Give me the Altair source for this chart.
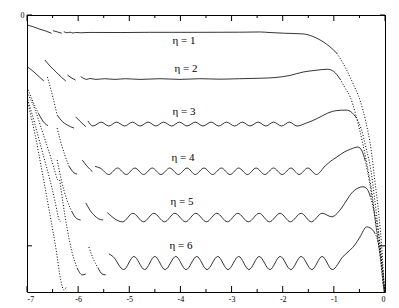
import altair as alt
import pandas as pd

# ---------------- data (plot units) ----------------
# eta = 1
E1_A_X = [-7.00, -6.88, -6.77, -6.65, -6.52]
E1_A_Y = [-0.43, -0.51, -0.60, -0.68, -0.79]
E1_B_X = [-6.49, -6.41, -6.32]
E1_B_Y = [-0.68, -0.73, -0.79]
E1_BODY_X = [-6.28, -6.22, -6.16, -6.10, -6.04, -5.96, -5.77, -5.18, -4.60, -3.62, -2.84, -2.44, -2.25, -1.96, -1.60, -1.41, -1.21, -1.08, -0.94]
E1_BODY_Y = [-0.72, -0.77, -0.745, -0.78, -0.755, -0.77, -0.755, -0.76, -0.75, -0.75, -0.745, -0.735, -0.76, -0.79, -0.82, -0.93, -1.16, -1.37, -1.66]
E1_TAIL_X = [-0.94, -0.75, -0.63, -0.49, -0.37, -0.27, -0.20, -0.12, -0.06, -0.01]
E1_TAIL_Y = [-1.66, -2.38, -2.95, -3.68, -4.68, -5.85, -7.15, -8.66, -10.18, -12.0]

# eta = 2
E2_A_X = [-7.00, -6.90, -6.79, -6.67]
E2_A_Y = [-2.24, -2.40, -2.62, -2.86]
E2_B_X = [-6.65, -6.55, -6.43, -6.32, -6.24]
E2_B_Y = [-1.95, -2.21, -2.47, -2.71, -2.86]
E2_C_X = [-6.21, -6.14, -6.05]
E2_C_Y = [-2.60, -2.71, -2.82]
E2_BODY_X = [-5.95, -5.89, -5.83, -5.77, -5.65, -5.48, -5.28, -5.08, -4.79, -4.40, -4.01, -3.62, -3.23, -2.84, -2.44, -2.15, -1.86, -1.60, -1.37, -1.12, -1.00, -0.88]
E2_BODY_Y = [-2.67, -2.75, -2.79, -2.75, -2.79, -2.76, -2.79, -2.76, -2.79, -2.76, -2.79, -2.76, -2.78, -2.76, -2.74, -2.71, -2.62, -2.47, -2.40, -2.35, -2.45, -2.77]
E2_TAIL_X = [-0.88, -0.78, -0.68, -0.57, -0.45, -0.35, -0.25, -0.18, -0.10, -0.02]
E2_TAIL_Y = [-2.77, -3.16, -3.55, -4.33, -5.42, -6.50, -7.80, -9.10, -10.40, -12.0]

# eta = 3
E3_A1_X = [-7.00, -6.88, -6.77]
E3_A1_Y = [-3.12, -3.77, -4.29]
E3_A2_X = [-6.77, -6.65, -6.59]
E3_A2_Y = [-4.29, -4.70, -4.79]
E3_B1_X = [-6.60, -6.51, -6.41]
E3_B1_Y = [-2.69, -3.42, -4.33]
E3_B2_X = [-6.41, -6.32, -6.21, -6.08]
E3_B2_Y = [-4.33, -4.59, -4.77, -4.90]
E3_C_X = [-6.05, -5.96, -5.85]
E3_C_Y = [-4.41, -4.61, -4.84]
E3_BODY_X = [-5.81, -5.71, -5.55, -5.40, -5.25, -5.09, -4.94, -4.79, -4.63, -4.48, -4.33, -4.17, -4.02,
             -3.87, -3.71, -3.56, -3.40, -3.25, -3.10, -2.94, -2.79, -2.64, -2.48, -2.33, -2.18, -2.02,
             -1.87, -1.72, -1.56, -1.43, -1.27, -1.12, -0.94, -0.76, -0.65, -0.57]
E3_BODY_Y = [-4.59, -4.81, -4.64, -4.81, -4.64, -4.81, -4.64, -4.81, -4.64, -4.81, -4.64, -4.81, -4.64,
             -4.81, -4.64, -4.81, -4.64, -4.81, -4.64, -4.81, -4.64, -4.81, -4.64, -4.81, -4.64, -4.81,
             -4.64, -4.81, -4.70, -4.59, -4.42, -4.25, -4.14, -4.12, -4.22, -4.42]
E3_TAIL_X = [-0.57, -0.47, -0.37, -0.27, -0.20, -0.12, -0.06, -0.01]
E3_TAIL_Y = [-4.42, -4.90, -5.76, -6.80, -8.01, -9.53, -10.83, -12.0]

# eta = 4
E4_A_X = [-7.00, -6.84, -6.71, -6.55, -6.45, -6.41, -6.37]
E4_A_Y = [-3.34, -4.12, -4.98, -6.07, -6.80, -7.10, -7.19]
E4_B1_X = [-6.41, -6.34, -6.26, -6.18]
E4_B1_Y = [-4.90, -5.50, -6.07, -6.54]
E4_B2_X = [-6.18, -6.08, -6.02]
E4_B2_Y = [-6.54, -6.84, -6.89]
E4_C_X = [-5.92, -5.83, -5.72]
E4_C_Y = [-6.28, -6.54, -6.79]
E4_BODY_X = [-5.67, -5.57, -5.40, -5.23, -5.06, -4.89, -4.72, -4.55, -4.38, -4.21, -4.04, -3.87, -3.71,
             -3.54, -3.37, -3.20, -3.03, -2.86, -2.69, -2.52, -2.35, -2.18, -2.01, -1.84, -1.68, -1.51,
             -1.34, -1.17, -1.06, -0.94, -0.80, -0.67, -0.53, -0.45, -0.39]
E4_BODY_Y = [-6.56, -6.63, -6.91, -6.63, -6.91, -6.63, -6.91, -6.63, -6.91, -6.63, -6.91, -6.63, -6.91,
             -6.63, -6.91, -6.63, -6.91, -6.63, -6.91, -6.63, -6.91, -6.63, -6.91, -6.63, -6.91, -6.63,
             -6.91, -6.54, -6.33, -6.15, -5.94, -5.81, -5.72, -5.89, -6.28]
E4_TAIL_X = [-0.39, -0.31, -0.235, -0.156, -0.078, -0.02, 0.0]
E4_TAIL_Y = [-6.28, -7.15, -8.23, -9.40, -10.70, -11.91, -12.04]

# eta = 5
E5_A_X = [-7.00, -6.84, -6.71, -6.55, -6.45, -6.37, -6.34]
E5_A_Y = [-3.55, -4.77, -5.85, -7.15, -8.10, -8.88, -8.97]
E5_B1_X = [-6.41, -6.32, -6.22, -6.12]
E5_B1_Y = [-6.28, -7.23, -8.01, -8.53]
E5_B2_X = [-6.12, -6.03, -5.95]
E5_B2_Y = [-8.53, -8.82, -8.88]
E5_C_X = [-5.85, -5.77, -5.67, -5.57, -5.51]
E5_C_Y = [-8.14, -8.45, -8.71, -8.86, -8.88]
E5_BODY_X = [-5.43, -5.13, -4.93, -4.72, -4.52, -4.31, -4.11, -3.90, -3.70, -3.49, -3.29, -3.08, -2.88,
             -2.67, -2.46, -2.26, -2.05, -1.85, -1.64, -1.44, -1.23, -1.04, -0.88, -0.76, -0.65, -0.53,
             -0.43, -0.35, -0.29]
E5_BODY_Y = [-8.56, -8.96, -8.59, -8.96, -8.59, -8.96, -8.59, -8.96, -8.59, -8.96, -8.59, -8.96, -8.59,
             -8.96, -8.59, -8.96, -8.59, -8.96, -8.59, -8.96, -8.59, -8.74, -8.45, -8.06, -7.71, -7.50,
             -7.44, -7.54, -7.84]
E5_TAIL_X = [-0.29, -0.215, -0.143, -0.078, -0.02, 0.0]
E5_TAIL_Y = [-7.84, -8.49, -9.23, -10.31, -11.61, -12.0]

# eta = 6
E6_A_X = [-7.00, -6.84, -6.71, -6.55, -6.43, -6.34, -6.28, -6.23]
E6_A_Y = [-3.68, -5.20, -6.72, -8.66, -10.18, -11.48, -11.91, -11.78]
E6_B1_X = [-6.36, -6.29, -6.21, -6.12, -6.02]
E6_B1_Y = [-7.15, -8.23, -9.31, -10.27, -10.96]
E6_B2_X = [-6.02, -5.92, -5.85]
E6_B2_Y = [-10.96, -11.26, -11.22]
E6_C1_X = [-5.79, -5.71, -5.61]
E6_C1_Y = [-10.05, -10.53, -10.96]
E6_C2_X = [-5.61, -5.53, -5.46]
E6_C2_Y = [-10.96, -11.22, -11.26]
E6_BODY_X = [-5.40, -5.32, -5.11, -4.91, -4.70, -4.50, -4.30, -4.09, -3.89, -3.68, -3.48, -3.27, -3.07,
             -2.86, -2.66, -2.46, -2.25, -2.05, -1.84, -1.64, -1.43, -1.23, -1.03, -0.82, -0.68, -0.59,
             -0.49, -0.36, -0.27, -0.20]
E6_BODY_Y = [-10.35, -10.46, -11.03, -10.46, -11.03, -10.46, -11.03, -10.46, -11.03, -10.46, -11.03,
             -10.46, -11.03, -10.46, -11.03, -10.46, -11.03, -10.46, -11.03, -10.46, -11.03, -10.46,
             -11.03, -10.46, -10.18, -9.96, -9.62, -9.18, -9.25, -9.44]
E6_TAIL_X = [-0.20, -0.137, -0.088, -0.039, 0.0]
E6_TAIL_Y = [-9.44, -9.83, -10.40, -11.18, -12.13]

LABELS = ["η = 1", "η = 2", "η = 3", "η = 4", "η = 5", "η = 6"]
LABEL_X = [-3.93, -3.89, -3.93, -3.95, -3.97, -3.99]
LABEL_Y = [-1.13, -2.34, -4.22, -6.20, -8.08, -10.01]

X_MAJOR = [-7, -6, -5, -4, -3, -2, -1, 0]
X_MINOR = [-6.5, -5.5, -4.5, -3.5, -2.5, -1.5, -0.5]
Y_MAJOR = [0, -10]

SOLID = [
    (E1_A_X, E1_A_Y), (E1_B_X, E1_B_Y), (E1_BODY_X, E1_BODY_Y),
    (E2_A_X, E2_A_Y), (E2_B_X, E2_B_Y), (E2_C_X, E2_C_Y), (E2_BODY_X, E2_BODY_Y),
    (E3_A2_X, E3_A2_Y), (E3_B2_X, E3_B2_Y), (E3_C_X, E3_C_Y), (E3_BODY_X, E3_BODY_Y),
    (E4_B2_X, E4_B2_Y), (E4_C_X, E4_C_Y), (E4_BODY_X, E4_BODY_Y),
    (E5_B2_X, E5_B2_Y), (E5_C_X, E5_C_Y), (E5_BODY_X, E5_BODY_Y),
    (E6_B2_X, E6_B2_Y), (E6_C2_X, E6_C2_Y), (E6_BODY_X, E6_BODY_Y),
]
DOTTED = [
    (E1_TAIL_X, E1_TAIL_Y), (E2_TAIL_X, E2_TAIL_Y),
    (E3_A1_X, E3_A1_Y), (E3_B1_X, E3_B1_Y), (E3_TAIL_X, E3_TAIL_Y),
    (E4_A_X, E4_A_Y), (E4_B1_X, E4_B1_Y), (E4_TAIL_X, E4_TAIL_Y),
    (E5_A_X, E5_A_Y), (E5_B1_X, E5_B1_Y), (E5_TAIL_X, E5_TAIL_Y),
    (E6_A_X, E6_A_Y), (E6_B1_X, E6_B1_Y), (E6_C1_X, E6_C1_Y), (E6_TAIL_X, E6_TAIL_Y),
]


def table(segs):
    rows = []
    for k, (xs, ys) in enumerate(segs):
        for i, (x, y) in enumerate(zip(xs, ys)):
            rows.append({"seg": k, "i": i, "x": x, "y": y})
    return pd.DataFrame(rows)


solid_df = table(SOLID)
dotted_df = table(DOTTED)
label_df = pd.DataFrame({"x": LABEL_X, "y": LABEL_Y, "t": LABELS})
xmaj_df = pd.DataFrame({"x": X_MAJOR})
xmin_df = pd.DataFrame({"x": X_MINOR})
ymaj_df = pd.DataFrame({"y": Y_MAJOR})

W, H = 358, 277
FONT = "Liberation Serif"

xs = alt.Scale(domain=[-7, 0], nice=False, zero=False)
ys = alt.Scale(domain=[-12, 0], nice=False, zero=False)
xaxis = alt.Axis(values=X_MAJOR, ticks=False, domain=False, grid=False, labelFont=FONT,
                 labelFontSize=8, labelPadding=3, labelExpr="'' + datum.value", title="",
                 labelColor="black")
yaxis = alt.Axis(values=Y_MAJOR, ticks=False, domain=False, grid=False, labelFont=FONT,
                 labelFontSize=8, labelPadding=3, labelExpr="datum.value == 0 ? '0' : ''",
                 title="", labelColor="black")
X = alt.X("x:Q", scale=xs, axis=xaxis)
Y = alt.Y("y:Q", scale=ys, axis=yaxis)

solid = alt.Chart(solid_df).mark_line(
    interpolate="monotone", color="black", strokeWidth=0.8, clip=True
).encode(x=X, y=Y, detail="seg:N", order="i:Q")

dotted = alt.Chart(dotted_df).mark_line(
    interpolate="monotone", color="black", strokeWidth=1, strokeDash=[1, 1.8], clip=True
).encode(x=X, y=Y, detail="seg:N", order="i:Q")

labels = alt.Chart(label_df).mark_text(
    font=FONT, fontSize=11, color="black", baseline="middle", align="center"
).encode(x=X, y=Y, text="t:N")

tick_bot_maj = alt.Chart(xmaj_df).mark_rule(color="black", strokeWidth=1).encode(
    x=X, y=alt.value(H), y2=alt.value(H - 6))
tick_top_maj = alt.Chart(xmaj_df).mark_rule(color="black", strokeWidth=1).encode(
    x=X, y=alt.value(0), y2=alt.value(6))
tick_bot_min = alt.Chart(xmin_df).mark_rule(color="black", strokeWidth=1).encode(
    x=X, y=alt.value(H), y2=alt.value(H - 3))
tick_top_min = alt.Chart(xmin_df).mark_rule(color="black", strokeWidth=1).encode(
    x=X, y=alt.value(0), y2=alt.value(3))
tick_left = alt.Chart(ymaj_df).mark_rule(color="black", strokeWidth=1).encode(
    y=Y, x=alt.value(0), x2=alt.value(5))
tick_right = alt.Chart(ymaj_df).mark_rule(color="black", strokeWidth=1).encode(
    y=Y, x=alt.value(W), x2=alt.value(W - 5))

chart = alt.layer(
    solid, dotted, labels, tick_bot_maj, tick_top_maj, tick_bot_min, tick_top_min,
    tick_left, tick_right
).properties(
    width=W, height=H,
    autosize=alt.AutoSizeParams(type="none"),
    padding={"left": 19, "top": 7, "right": 6, "bottom": 12},
    background="white",
).configure_view(stroke="black", strokeWidth=1)

chart.save("out.html", embed_options={"renderer": "svg", "actions": False})
